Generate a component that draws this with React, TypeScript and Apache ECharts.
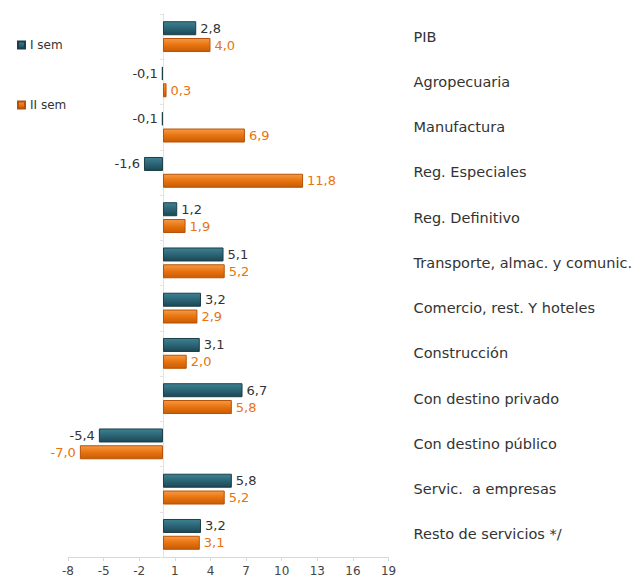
import React, { useEffect, useRef } from "react";
import * as echarts from "echarts";

const categories = [
  "PIB",
  "Agropecuaria",
  "Manufactura",
  "Reg. Especiales",
  "Reg. Definitivo",
  "Transporte, almac. y comunic.",
  "Comercio, rest. Y hoteles",
  "Construcción",
  "Con destino privado",
  "Con destino público",
  "Servic.  a empresas",
  "Resto de servicios */",
];
const semI = [2.8, -0.1, -0.1, -1.6, 1.2, 5.1, 3.2, 3.1, 6.7, -5.4, 5.8, 3.2];
const semII = [4.0, 0.3, 6.9, 11.8, 1.9, 5.2, 2.9, 2.0, 5.8, -7.0, 5.2, 3.1];
const seriesNames = ["I sem", "II sem"];
const xMin = -8;
const xMax = 19;
const xStep = 3;

const FONT = "DejaVu Sans";
const ORANGE = "#e8730f";

const fmt = (v: number) => v.toFixed(1).replace(".", ",");

function makeData(vals: number[]) {
  return vals.map((v) => ({
    value: v,
    label: { position: v < 0 ? "left" : "right" },
  }));
}

export default function App() {
  const ref = useRef<HTMLDivElement>(null);
  useEffect(() => {
    if (!ref.current) return;
    const chart = echarts.init(ref.current, null, { renderer: "svg" });
    chart.setOption({
      animation: false,
      backgroundColor: "#ffffff",
      textStyle: { fontFamily: FONT },
      legend: {
        orient: "vertical",
        left: 12,
        top: 34,
        itemGap: 48,
        itemWidth: 7,
        itemHeight: 7,
        icon: "rect",
        textStyle: { fontFamily: FONT, fontSize: 12, color: "#333" },
        data: seriesNames,
      },
      grid: { left: 68, right: 245, top: 14, bottom: 27, containLabel: false },
      xAxis: {
        type: "value",
        min: xMin,
        max: xMax,
        interval: xStep,
        splitLine: { show: false },
        axisLine: { show: true, onZero: false, lineStyle: { color: "#d9d9d9" } },
        axisTick: { show: true, length: 4, lineStyle: { color: "#d9d9d9" } },
        axisLabel: { fontFamily: FONT, fontSize: 12, color: "#444", margin: 8 },
      },
      yAxis: [
        {
          type: "category",
          data: categories,
          inverse: true,
          position: "left",
          axisLine: { show: true, onZero: true, lineStyle: { color: "#e3e3e3" } },
          axisTick: { show: true, length: 3, lineStyle: { color: "#e3e3e3" } },
          axisLabel: { show: false },
        },
        {
          type: "category",
          data: categories,
          inverse: true,
          position: "right",
          axisLine: { show: false },
          axisTick: { show: false },
          axisLabel: {
            show: true,
            align: "left",
            margin: 25,
            fontFamily: FONT,
            fontSize: 14.5,
            color: "#333",
          },
        },
      ],
      series: [
        {
          name: seriesNames[0],
          type: "bar",
          yAxisIndex: 0,
          barWidth: 14,
          barGap: "20%",
          data: makeData(semI),
          itemStyle: {
            color: new echarts.graphic.LinearGradient(0, 0, 0, 1, [
              { offset: 0, color: "#3d8193" },
              { offset: 0.5, color: "#2b6575" },
              { offset: 1, color: "#1c4753" },
            ]),
            borderColor: "#1a3f4a",
            borderWidth: 1,
          },
          label: {
            show: true,
            formatter: (p: any) => fmt(p.value),
            fontFamily: FONT,
            fontSize: 13,
            color: "#333",
            distance: 4,
          },
        },
        {
          name: seriesNames[1],
          type: "bar",
          yAxisIndex: 0,
          barWidth: 14,
          data: makeData(semII),
          itemStyle: {
            color: new echarts.graphic.LinearGradient(0, 0, 0, 1, [
              { offset: 0, color: "#f59a45" },
              { offset: 0.5, color: ORANGE },
              { offset: 1, color: "#c85c05" },
            ]),
            borderColor: "#b65207",
            borderWidth: 1,
          },
          label: {
            show: true,
            formatter: (p: any) => fmt(p.value),
            fontFamily: FONT,
            fontSize: 13,
            color: ORANGE,
            distance: 4,
          },
        },
      ],
    });
    return () => chart.dispose();
  }, []);
  return (
    <div
      ref={ref}
      style={{ position: "fixed", left: 0, top: 0, width: 635, height: 584 }}
    />
  );
}
